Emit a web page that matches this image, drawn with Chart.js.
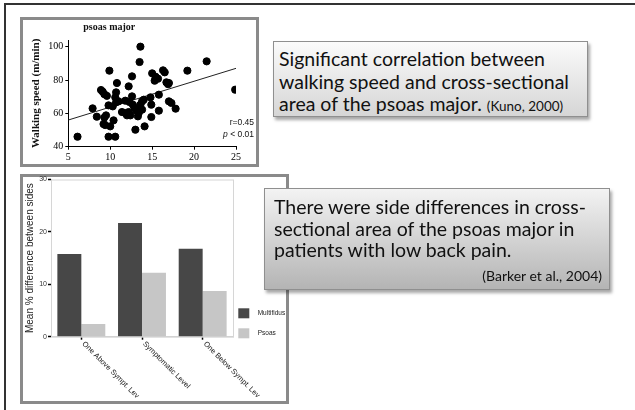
<!DOCTYPE html>
<html>
<head>
<meta charset="utf-8">
<script src="https://cdn.jsdelivr.net/npm/chart.js@4.4.0/dist/chart.umd.min.js"></script>
<style>
body{margin:0;width:635px;height:410px;position:relative;background:#fff;overflow:hidden;}
#frame{position:absolute;left:4px;top:3px;width:700px;height:500px;border-top:2px solid #333;border-left:2px solid #333;}
.panel{position:absolute;border:3px solid #8a8a8a;box-sizing:border-box;background:#fff;}
#p1{left:20px;top:17px;width:239px;height:150px;}
#p2{left:20px;top:174px;width:269px;height:230px;}
canvas{position:absolute;}
#g1{left:20px;top:17px;}
#g2{left:20px;top:170px;}
.note{position:absolute;box-sizing:border-box;border:1px solid #8f8f8f;box-shadow:2px 3px 3px rgba(0,0,0,.35);font-family:Lato,'Open Sans',sans-serif;color:#111;}
#n1{left:273px;top:41px;width:315px;height:76px;background:linear-gradient(#fbfbfb,#d6d6d6);padding:6px 0 0 5px;font-size:19.5px;line-height:22.5px;}
#n2{left:264px;top:188px;width:346px;height:102px;background:linear-gradient(#f3f3f3,#b4b4b4);padding:7px 0 0 9px;font-size:19.5px;line-height:21.7px;}
.cite{font-size:13.5px;}
#n2 .cite{display:block;text-align:right;padding-right:7px;margin-top:4px;font-size:14px;}
</style>
</head>
<body>
<div id="frame"></div>
<div class="panel" id="p1"></div>
<div class="panel" id="p2"></div>
<canvas id="g1" width="239" height="150"></canvas>
<canvas id="g2" width="280" height="236"></canvas>
<div class="note" id="n1">Significant correlation between<br>walking speed and cross-sectional<br>area of the psoas major. <span class="cite">(Kuno, 2000)</span></div>
<div class="note" id="n2">There were side differences in cross-<br>sectional area of the psoas major in<br>patients with low back pain.<span class="cite">(Barker et al., 2004)</span></div>
<script>
// scatter: cross-sectional area vs walking speed
const area = [6.1, 7.9, 8.4, 8.9, 9.1, 9.3, 9.6, 9.9, 9.8, 9.5, 9.3, 9.2, 9.4, 10.0, 9.8, 10.6, 10.4, 10.3, 10.6, 10.7,
  10.8, 11.0, 10.7, 11.4, 11.8, 12.0, 12.2, 12.4, 11.8, 12.2, 12.6, 12.3, 12.7, 12.6, 12.9, 13.1, 13.4, 13.3, 13.0, 13.6,
  13.5, 13.6, 13.8, 14.0, 13.8, 14.1, 14.8, 14.9, 14.9, 15.0, 15.4, 15.3, 15.7, 16.3, 16.5, 16.7, 17.0, 16.9, 15.8, 17.0,
  17.3, 17.8, 15.8, 19.2, 21.5, 24.9];
const speed = [46, 63, 58, 74, 73, 71.5, 70.5, 85.6, 64.8, 58.8, 57.5, 53.6, 53, 52.2, 46, 46, 55.8, 64.2, 69.6, 72.6,
  78.2, 67.2, 66.6, 60.8, 60.2, 58.8, 60.8, 58.8, 67.6, 76.2, 82.2, 66.8, 65.2, 70.2, 63.2, 61.6, 60.2, 58.2, 50.2, 100,
  90.8, 65.2, 67.2, 68.2, 62.2, 52.2, 69.6, 65.2, 57.8, 84, 82, 79.6, 80.8, 85.8, 84.6, 78.6, 78.2, 77.5, 71.2, 67.2,
  66.2, 62.8, 61.6, 85.6, 91.2, 74.2];
const fitX = [5, 25];
const fitY = [56, 87];
const xTicks1 = [5, 10, 15, 20, 25];
const yTicks1 = [40, 60, 80, 100];

// bars: side differences
const levels = ['One Above Sympt. Lev', 'Symptomatic Level', 'One Below Sympt. Lev'];
const multifidus = [15.8, 21.7, 16.8];
const psoas = [2.4, 12.2, 8.7];
const yTicks2 = [0, 10, 20, 30];

const serif = 'Liberation Serif';
const sans = 'Liberation Sans';

const notes1 = {
  id: 'notes1',
  afterDraw(chart) {
    const ctx = chart.ctx, a = chart.chartArea;
    ctx.save();
    ctx.fillStyle = '#111';
    ctx.textBaseline = 'middle';
    ctx.font = 'bold 10px ' + serif;
    ctx.textAlign = 'left';
    ctx.fillText('psoas major', a.left + 15, 10);
    ctx.textAlign = 'right';
    ctx.font = '8.5px ' + sans;
    ctx.fillText('r=0.45', a.right + 18, 106);
    const rest = ' < 0.01';
    const w = ctx.measureText(rest).width;
    ctx.fillText(rest, a.right + 18, 118);
    ctx.font = 'italic 8.5px ' + sans;
    ctx.fillText('p', a.right + 18 - w, 118);
    ctx.restore();
  }
};

new Chart(document.getElementById('g1'), {
  type: 'scatter',
  data: {
    datasets: [{
      data: area.map((v, i) => ({x: v, y: speed[i]})),
      backgroundColor: '#000',
      borderColor: '#000',
      pointRadius: 3.6,
      pointHoverRadius: 3.6
    }, {
      type: 'line',
      data: fitX.map((v, i) => ({x: v, y: fitY[i]})),
      borderColor: '#222',
      borderWidth: 1,
      pointRadius: 0,
      showLine: true,
      fill: false
    }]
  },
  options: {
    responsive: false,
    animation: false,
    layout: {padding: {left: 0, top: 23, right: 23, bottom: 0}},
    plugins: {legend: {display: false}, tooltip: {enabled: false}},
    scales: {
      x: {
        type: 'linear', min: 5, max: 25,
        afterBuildTicks: s => { s.ticks = xTicks1.map(v => ({value: v})); },
        afterFit: s => { s.height = 20.3; },
        grid: {drawOnChartArea: false, tickLength: 3, color: '#000'},
        border: {color: '#000', width: 1},
        ticks: {font: {family: serif, size: 10}, color: '#000', padding: 2, maxRotation: 0}
      },
      y: {
        min: 40, max: 104,
        afterBuildTicks: s => { s.ticks = yTicks1.map(v => ({value: v})); },
        afterFit: s => { s.width = 48.3; },
        grid: {drawOnChartArea: false, tickLength: 3, color: '#000'},
        border: {color: '#000', width: 1},
        ticks: {font: {family: serif, size: 10}, color: '#000', padding: 2},
        title: {display: true, text: 'Walking speed (m/min)', font: {family: serif, size: 11, weight: 'bold'}, color: '#111', padding: {top: 10, bottom: 0}}
      }
    }
  },
  plugins: [notes1]
});

const extras2 = {
  id: 'extras2',
  beforeDatasetsDraw(chart) {
    const ctx = chart.ctx, a = chart.chartArea;
    ctx.save();
    ctx.strokeStyle = '#d6d6d6';
    ctx.lineWidth = 1;
    ctx.strokeRect(a.left + 0.5, a.top + 0.5, a.right - a.left, a.bottom - a.top);
    ctx.restore();
  },
  afterDraw(chart) {
    const ctx = chart.ctx, a = chart.chartArea, x = chart.scales.x;
    ctx.save();
    ctx.fillStyle = '#222';
    ctx.font = '7.5px ' + sans;
    ctx.textAlign = 'left';
    ctx.textBaseline = 'middle';
    chart.data.labels.forEach((lab, i) => {
      ctx.save();
      ctx.translate(x.getPixelForValue(i) + 2, a.bottom + 6);
      ctx.rotate(Math.PI / 4);
      ctx.fillText(lab, 0, 0);
      ctx.restore();
    });
    // legend
    ctx.font = '6.5px ' + sans;
    chart.data.datasets.forEach((ds, i) => {
      const top = a.bottom - 28.4 + i * 20;
      ctx.fillStyle = ds.backgroundColor;
      ctx.fillRect(a.right + 5.3, top, 11, 10);
      ctx.fillStyle = '#222';
      ctx.fillText(ds.label, a.right + 24.7, top + 5);
    });
    ctx.restore();
  }
};

new Chart(document.getElementById('g2'), {
  type: 'bar',
  data: {
    labels: levels,
    datasets: [
      {label: 'Multifidus', data: multifidus, backgroundColor: '#474747', categoryPercentage: 0.79, barPercentage: 1},
      {label: 'Psoas', data: psoas, backgroundColor: '#c6c6c6', categoryPercentage: 0.79, barPercentage: 1}
    ]
  },
  options: {
    responsive: false,
    animation: false,
    layout: {padding: {left: 0, top: 9.5, right: 67, bottom: 0}},
    plugins: {legend: {display: false}, tooltip: {enabled: false}},
    scales: {
      x: {
        ticks: {display: false},
        afterFit: s => { s.height = 69.3; },
        grid: {offset: false, drawOnChartArea: false, tickLength: 3, tickColor: '#000', tickWidth: 1.5},
        border: {color: '#d0d0d0'}
      },
      y: {
        min: 0, max: 30,
        afterBuildTicks: s => { s.ticks = yTicks2.map(v => ({value: v})); },
        afterFit: s => { s.width = 31; },
        grid: {drawOnChartArea: false, tickLength: 3, tickColor: '#000', tickWidth: 1.5},
        border: {color: '#d0d0d0'},
        ticks: {font: {family: sans, size: 7}, color: '#333', padding: 1},
        title: {display: true, text: 'Mean % difference between sides', font: {family: sans, size: 10}, color: '#222', padding: {top: 4, bottom: 0}}
      }
    }
  },
  plugins: [extras2]
});
</script>
</body>
</html>
